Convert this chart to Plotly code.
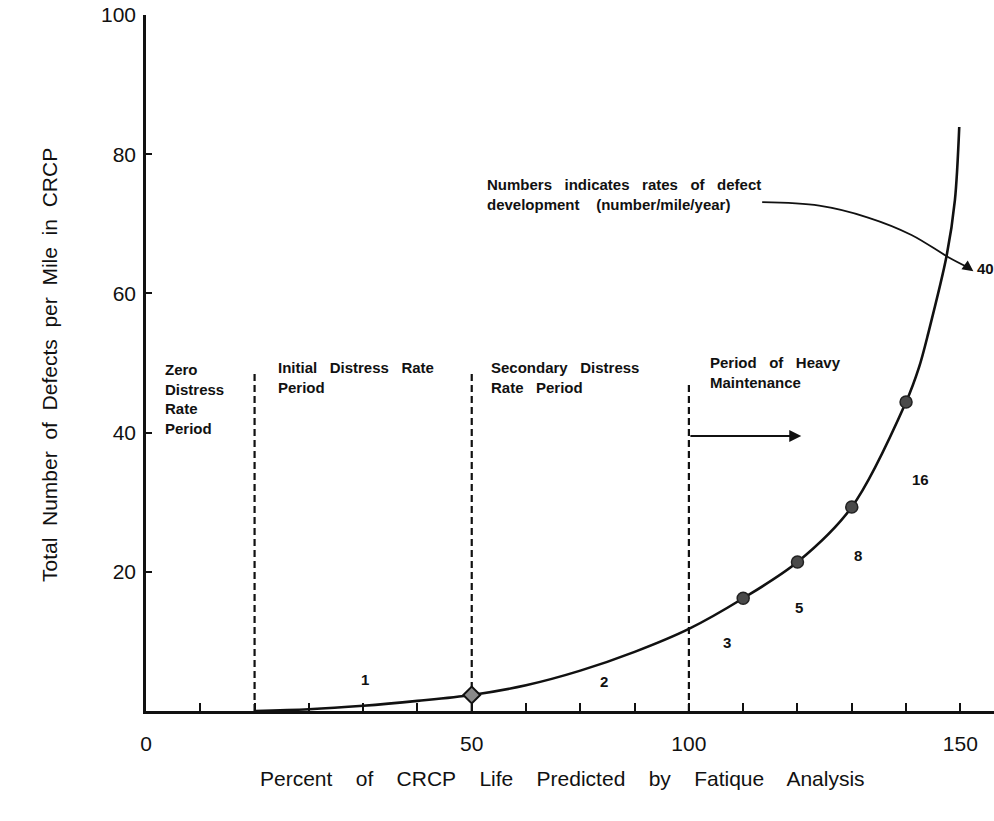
import numpy as np
import plotly.graph_objects as go

# Percent-of-life value at each drafted tick mark along the x axis
tick_percent = [0, 8.33, 16.67, 25, 33.33, 41.67, 50, 62.5, 75, 87.5,
                100, 110, 120, 130, 140, 150]
labelled_percent = [0, 50, 100, 150]
labelled_text = ["0", "50", "100", "150"]

# Defect curve
curve_percent = [16.67, 25, 33.33, 41.67, 50, 62.5, 75, 87.5, 100,
                 110, 120, 130, 140, 142.4, 144.1, 147.5, 149, 149.8]
curve_defects = [0, 0.25, 0.75, 1.45, 2.3, 3.7, 5.8, 8.5, 11.8,
                 16.2, 21.4, 29.3, 44.4, 49.4, 54.3, 65.5, 73.4, 83.9]

# Marked points on the curve
marker_percent = [110, 120, 130, 140]
marker_defects = [16.2, 21.4, 29.3, 44.4]
half_life_percent = 50
half_life_defects = 2.3

# Period boundaries (percent) and the height of each dashed line
boundary_percent = [16.67, 50, 100]
boundary_top = [49.0, 49.0, 47.3]

# Rates of defect development (number/mile/year)
rate_labels = ["1", "2", "3", "5", "8", "16", "40"]
rate_percent = [33.6, 80.5, 107.1, 120.2, 131.1, 142.6, 154.6]
rate_defects = [4.5, 4.3, 9.9, 14.8, 22.4, 33.3, 63.6]

y_ticks = [20, 40, 60, 80, 100]

FONT = "Liberation Sans, Arial, Helvetica, sans-serif"
INK = "#111111"


def to_axis(p):
    """Map percent of life onto the drafted tick scale (one unit per tick)."""
    p = np.asarray(p, dtype=float)
    idx = np.arange(len(tick_percent), dtype=float)
    out = np.interp(p, tick_percent, idx)
    beyond = p > tick_percent[-1]
    out = np.where(beyond, idx[-1] + (p - tick_percent[-1]) / 10.0, out)
    return out


def sp(text, n=1):
    return text.replace(" ", "\u00a0" * n + " ")


fig = go.Figure()

# dashed period boundaries
for bp, top in zip(boundary_percent, boundary_top):
    xb = float(to_axis(bp))
    fig.add_trace(go.Scatter(x=[xb, xb], y=[0, top], mode="lines",
                             line=dict(color=INK, width=2.2, dash="7px,4px"),
                             hoverinfo="skip", showlegend=False))

# defect curve
fig.add_trace(go.Scatter(x=to_axis(curve_percent), y=curve_defects, mode="lines",
                         line=dict(color=INK, width=2.6, shape="spline", smoothing=0.9),
                         hoverinfo="skip", showlegend=False))

fig.add_trace(go.Scatter(x=to_axis(marker_percent), y=marker_defects, mode="markers",
                         marker=dict(symbol="circle", size=12, color="#4a4a4a",
                                     line=dict(color="#222222", width=1.5)),
                         showlegend=False))
fig.add_trace(go.Scatter(x=[float(to_axis(half_life_percent))], y=[half_life_defects],
                         mode="markers",
                         marker=dict(symbol="diamond", size=13, color="#8a8a8a",
                                     line=dict(color=INK, width=2)),
                         showlegend=False))

# curved leader from the note to the 40 label
lead_percent = [113.5, 124.0, 133.0, 141.0, 147.8, 151.5]
lead_defects = [73.1, 72.6, 70.9, 68.4, 65.2, 63.7]
fig.add_trace(go.Scatter(x=to_axis(lead_percent), y=lead_defects, mode="lines",
                         line=dict(color=INK, width=1.8, shape="spline"),
                         hoverinfo="skip", showlegend=False))

annotations = []
annotations.append(dict(x=float(to_axis(152.4)), y=63.2,
                        ax=float(to_axis(150.6)), ay=64.2,
                        xref="x", yref="y", axref="x", ayref="y",
                        text="", showarrow=True, arrowhead=2, arrowsize=1.2,
                        arrowwidth=1.8, arrowcolor=INK))

# heavy maintenance arrow
annotations.append(dict(x=float(to_axis(120.7)), y=39.5,
                        ax=float(to_axis(100)), ay=39.5,
                        xref="x", yref="y", axref="x", ayref="y",
                        text="", showarrow=True, arrowhead=2, arrowsize=1.2,
                        arrowwidth=2, arrowcolor=INK))

# period text
BODY = dict(family=FONT, size=15, color=INK, weight="bold")
period_text = [
    ("Zero<br>Distress<br>Rate<br>Period", 2.6, 50.6),
    (sp("Initial Distress Rate", 2) + "<br>Period", 19.9, 50.9),
    (sp("Secondary Distress", 2) + "<br>" + sp("Rate Period", 2), 54.0, 50.9),
    (sp("Period of Heavy", 2) + "<br>Maintenance", 103.6, 51.6),
    (sp("Numbers indicates rates of defect", 2) + "<br>"
     + sp("development  (number/mile/year)", 1), 53.1, 77.2),
]
for txt, px, py in period_text:
    annotations.append(dict(x=float(to_axis(px)), y=py, xref="x", yref="y",
                            text=txt, showarrow=False, xanchor="left", yanchor="top",
                            align="left", font=BODY))

for lab, px, py in zip(rate_labels, rate_percent, rate_defects):
    annotations.append(dict(x=float(to_axis(px)), y=py, xref="x", yref="y",
                            text=lab, showarrow=False, font=BODY))

# axis titles
annotations.append(dict(x=0.4906, y=-0.116, xref="paper", yref="paper",
                        text=sp("Percent of CRCP Life Predicted by Fatique Analysis", 3),
                        showarrow=False, font=dict(family=FONT, size=21, color=INK)))
annotations.append(dict(x=-0.130, y=0.4975, xref="paper", yref="paper",
                        text=sp("Total Number of Defects per Mile in CRCP", 1), textangle=-90,
                        showarrow=False, font=dict(family=FONT, size=21, color=INK)))

x_tickvals = list(to_axis(tick_percent))
x_ticktext = []
for tp in tick_percent:
    x_ticktext.append(labelled_text[labelled_percent.index(tp)] if tp in labelled_percent else "")

fig.update_layout(
    width=994, height=821,
    margin=dict(l=146, r=0, t=15, b=110),
    paper_bgcolor="white", plot_bgcolor="white",
    showlegend=False,
    annotations=annotations,
    xaxis=dict(range=[0, 15.62], tickmode="array", tickvals=x_tickvals, ticktext=x_ticktext,
               ticks="inside", ticklen=8, tickwidth=2, tickcolor=INK,
               showline=True, linecolor=INK, linewidth=2.5, showgrid=False, zeroline=False,
               tickfont=dict(family=FONT, size=21, color=INK), ticklabelstandoff=12),
    yaxis=dict(range=[0, 100], tickmode="array", tickvals=y_ticks,
               ticks="inside", ticklen=6, tickwidth=2, tickcolor=INK,
               showline=True, linecolor=INK, linewidth=2.5, showgrid=False, zeroline=False,
               tickfont=dict(family=FONT, size=21, color=INK), ticklabelstandoff=3),
)

fig.write_html("out.html")
